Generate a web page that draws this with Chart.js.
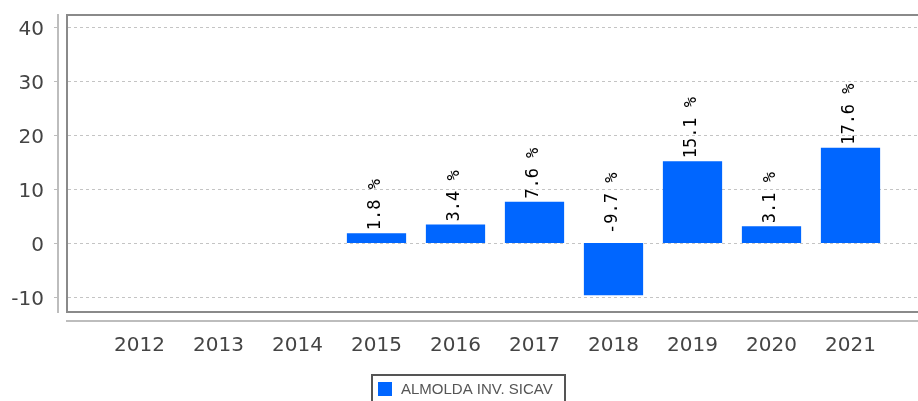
<!DOCTYPE html>
<html>
<head>
<meta charset="utf-8">
<script src="https://cdn.jsdelivr.net/npm/chart.js@4/dist/chart.umd.min.js"></script>
<style>
    html, body { margin: 0; padding: 0; background: #fff; overflow: hidden; }
    #wrap { width: 918px; height: 401px; position: relative; }
</style>
</head>
<body>
<div id="wrap"><canvas id="barChart"></canvas></div>
<script>
// datos
var anios = ['2012', '2013', '2014', '2015', '2016', '2017', '2018', '2019', '2020', '2021'];
var rentabilidad = [null, null, null, 1.8, 3.4, 7.6, -9.7, 15.1, 3.1, 17.6];
var ticksY = [-10, 0, 10, 20, 30, 40];
var nombreFondo = 'ALMOLDA INV. SICAV';

var azul = 'rgb(0,102,255)';

// marco, rejilla, ejes y leyenda (estilo jfreechart)
var marcoPlugin = {
    id: 'marco',
    beforeDatasetsDraw: function(chart) {
        var ctx = chart.ctx;
        var y = chart.scales.y;
        var top = chart.chartArea.top;
        var bottom = chart.chartArea.bottom;
        ctx.save();
        // rejilla
        ctx.strokeStyle = '#c4c4c4';
        ctx.lineWidth = 1;
        ctx.setLineDash([3, 3]);
        for (var i = 0; i < ticksY.length; i++) {
            var py = Math.round(y.getPixelForValue(ticksY[i])) + 0.5;
            ctx.beginPath();
            ctx.moveTo(68, py);
            ctx.lineTo(918, py);
            ctx.stroke();
        }
        ctx.setLineDash([]);
        // eje y
        ctx.strokeStyle = '#bdbdbd';
        ctx.lineWidth = 2;
        ctx.beginPath();
        ctx.moveTo(58, top - 1);
        ctx.lineTo(58, bottom + 1);
        ctx.stroke();
        ctx.lineWidth = 1;
        for (var j = 0; j < ticksY.length; j++) {
            var ty = Math.round(y.getPixelForValue(ticksY[j])) + 0.5;
            ctx.beginPath();
            ctx.moveTo(54, ty);
            ctx.lineTo(58, ty);
            ctx.stroke();
        }
        // eje x
        ctx.lineWidth = 2;
        ctx.beginPath();
        ctx.moveTo(66, 321);
        ctx.lineTo(918, 321);
        ctx.stroke();
        // marco
        ctx.strokeStyle = '#8a8a8a';
        ctx.lineWidth = 2;
        ctx.strokeRect(67, top, 860, bottom - top);
        ctx.restore();
    },
    afterDatasetsDraw: function(chart) {
        var ctx = chart.ctx;
        var meta = chart.getDatasetMeta(0);
        var y = chart.scales.y;
        ctx.save();
        ctx.fillStyle = '#000';
        ctx.font = '17px "DejaVu Sans Mono"';
        ctx.textAlign = 'left';
        ctx.textBaseline = 'middle';
        for (var i = 0; i < meta.data.length; i++) {
            var v = rentabilidad[i];
            if (v === null) continue;
            var bar = meta.data[i];
            var base = y.getPixelForValue(0);
            var py = v >= 0 ? bar.y - 3 : base - 9;
            ctx.save();
            ctx.translate(bar.x - 1, py);
            ctx.rotate(-Math.PI / 2);
            ctx.fillText(v.toFixed(1) + ' %', 0, 0);
            ctx.restore();
        }
        // leyenda
        ctx.strokeStyle = '#555';
        ctx.lineWidth = 2;
        ctx.strokeRect(372, 375, 193, 40);
        ctx.fillStyle = azul;
        ctx.fillRect(378, 382, 14, 14);
        ctx.fillStyle = '#555';
        ctx.font = '15px "Liberation Sans"';
        ctx.textBaseline = 'middle';
        ctx.fillText(nombreFondo, 401, 390);
        ctx.restore();
    }
};

var barChartCanvas = document.getElementById('barChart').getContext('2d');
var barChart = new Chart(barChartCanvas, {
    type: 'bar',
    data: {
        labels: anios,
        datasets: [{
            label: nombreFondo,
            data: rentabilidad,
            backgroundColor: azul,
            borderWidth: 0,
            categoryPercentage: 1,
            barPercentage: 0.75
        }]
    },
    options: {
        responsive: true,
        maintainAspectRatio: false,
        animation: false,
        layout: { padding: { top: 15, right: 28, left: 0, bottom: 0 } },
        plugins: {
            legend: { display: false },
            tooltip: { enabled: false }
        },
        scales: {
            x: {
                offset: true,
                grid: { display: false, drawTicks: false },
                border: { display: false },
                ticks: {
                    color: '#444',
                    padding: 22,
                    font: { family: 'DejaVu Sans', size: 20 },
                    maxRotation: 0
                },
                afterFit: function(scale) {
                    scale.height = 89;
                    scale.paddingLeft = 0;
                    scale.paddingRight = 0;
                }
            },
            y: {
                min: -12.8,
                max: 42.2,
                grid: { display: false, drawTicks: false },
                border: { display: false },
                ticks: {
                    stepSize: 10,
                    includeBounds: false,
                    color: '#444',
                    padding: 56,
                    labelOffset: 3,
                    font: { family: 'DejaVu Sans', size: 20 }
                },
                afterFit: function(scale) {
                    scale.width = 100;
                    scale.paddingTop = 0;
                    scale.paddingBottom = 0;
                }
            }
        }
    },
    plugins: [marcoPlugin]
});
</script>
</body>
</html>
